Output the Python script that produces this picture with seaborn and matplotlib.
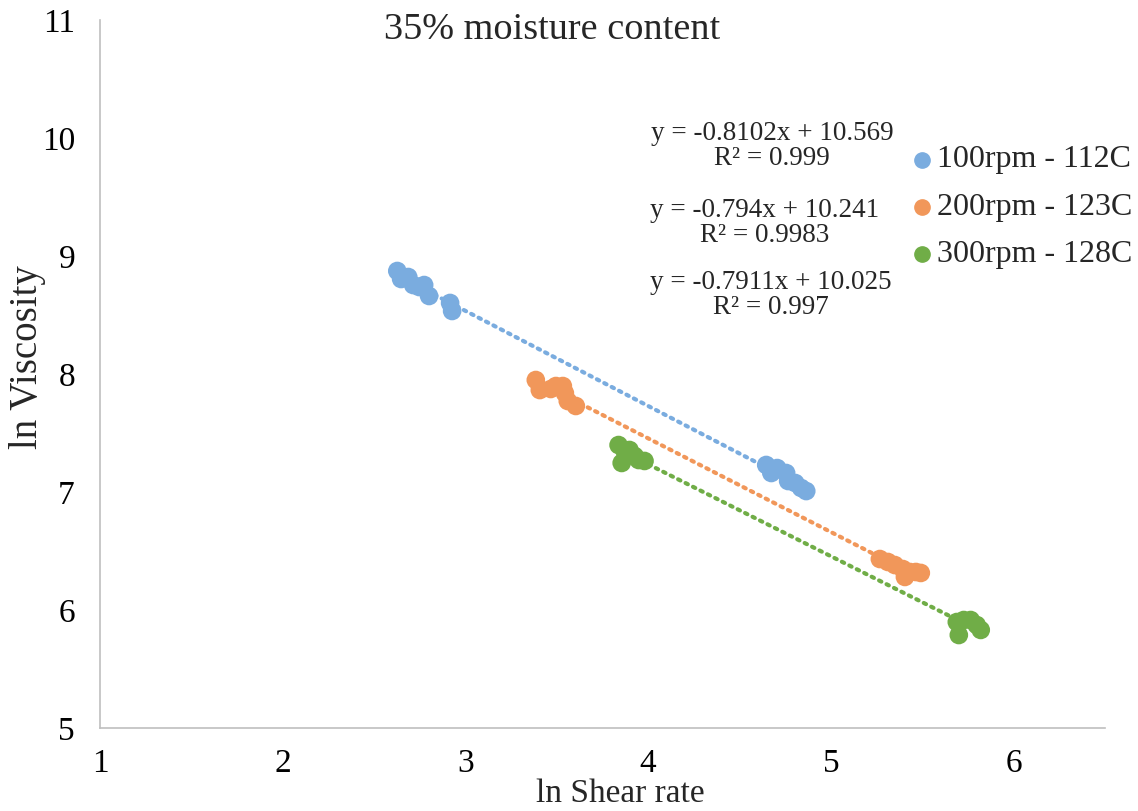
import numpy as np
import pandas as pd
import seaborn as sns
import matplotlib
matplotlib.use("Agg")
import matplotlib.pyplot as plt

# ln(shear rate) and ln(viscosity) readings for each extrusion condition
x_100 = [2.627, 2.648, 2.687, 2.714, 2.747, 2.774, 2.801, 2.916, 2.927,
         4.646, 4.674, 4.706, 4.755, 4.766, 4.805, 4.837, 4.865]
y_100 = [8.873, 8.805, 8.822, 8.754, 8.737, 8.754, 8.661, 8.602, 8.534,
         7.229, 7.161, 7.203, 7.161, 7.093, 7.076, 7.034, 7.008]

x_200 = [3.385, 3.407, 3.467, 3.495, 3.533, 3.544, 3.560, 3.604,
         5.268, 5.312, 5.350, 5.394, 5.405, 5.432, 5.465, 5.492]
y_200 = [7.949, 7.864, 7.873, 7.898, 7.898, 7.839, 7.771, 7.729,
         6.432, 6.407, 6.381, 6.347, 6.280, 6.322, 6.322, 6.314]

x_300 = [3.838, 3.871, 3.855, 3.898, 3.926, 3.948, 3.980,
         5.689, 5.727, 5.765, 5.798, 5.820, 5.700]
y_300 = [7.398, 7.347, 7.246, 7.356, 7.305, 7.271, 7.263,
         5.898, 5.915, 5.915, 5.873, 5.831, 5.788]

series_names = ["100rpm - 112C", "200rpm - 123C", "300rpm - 128C"]
equations = ["y = -0.8102x + 10.569\nR² = 0.999",
             "y = -0.794x + 10.241\nR² = 0.9983",
             "y = -0.7911x + 10.025\nR² = 0.997"]
x_ticks = [1, 2, 3, 4, 5, 6]
y_ticks = [5, 6, 7, 8, 9, 10, 11]
colors = ["#7aacdf", "#f1975a", "#70ad47"]

frames = []
for name, xs, ys in zip(series_names, [x_100, x_200, x_300], [y_100, y_200, y_300]):
    frames.append(pd.DataFrame({"lnshear": xs, "lnvisc": ys, "series": name}))
df = pd.concat(frames, ignore_index=True)

sns.set_theme(style="white")
plt.rcParams["font.family"] = ["Liberation Serif", "DejaVu Serif"]

fig = plt.figure(figsize=(11.38, 8.11), dpi=100)
ax = fig.add_axes([100 / 1138, 1 - 728 / 811, 1005 / 1138, 708 / 811])

palette = dict(zip(series_names, colors))

# dotted linear trendlines across each series' range
for name in series_names:
    sub = df[df.series == name]
    k, b = np.polyfit(sub.lnshear, sub.lnvisc, 1)
    xs = np.array([sub.lnshear.min(), sub.lnshear.max()])
    ax.plot(xs, k * xs + b, linestyle=(0, (0.6, 1.4)), linewidth=3.0,
            color=palette[name], dash_capstyle="round", zorder=1)

sns.scatterplot(data=df, x="lnshear", y="lnvisc", hue="series", palette=palette,
                s=180, linewidth=0, alpha=1.0, ax=ax, legend=False, zorder=2)

ax.set_xlim(1, 6.5)
ax.set_ylim(5, 11)
ax.set_xticks(x_ticks)
ax.set_yticks(y_ticks)
ax.tick_params(axis="both", length=0, labelsize=24, colors="black")
ax.tick_params(axis="x", pad=15)
ax.tick_params(axis="y", pad=18)
for side in ["top", "right"]:
    ax.spines[side].set_visible(False)
for side in ["left", "bottom"]:
    ax.spines[side].set_color("#bfbfbf")
    ax.spines[side].set_linewidth(1.2)
ax.set_xlabel("")
ax.set_ylabel("")

fig.text(620 / 1138, 1 - 794 / 811, "ln Shear rate", ha="center", va="center", fontsize=24)
fig.text(28 / 1138, 1 - 357 / 811, "ln Viscosity", ha="center", va="center",
         rotation=90, fontsize=28)
fig.text(552 / 1138, 1 - 30 / 811, "35% moisture content", ha="center", va="center",
         fontsize=27.5)

# fit equations
eq_pos = [(772, 146), (765, 223), (771, 295)]
for (px, py), txt in zip(eq_pos, equations):
    fig.text(px / 1138, 1 - py / 811, txt, ha="center", va="center",
             fontsize=19.5, linespacing=1.05)

# legend
leg_y = [160, 207, 254]
for name, py in zip(series_names, leg_y):
    fig.add_artist(plt.Line2D([922 / 1138], [1 - py / 811], marker="o", markersize=11,
                              color=palette[name], linestyle="none",
                              transform=fig.transFigure))
    fig.text(937 / 1138, 1 - py / 811, name, ha="left", va="center", fontsize=23)

fig.savefig("out.png", dpi=100)
